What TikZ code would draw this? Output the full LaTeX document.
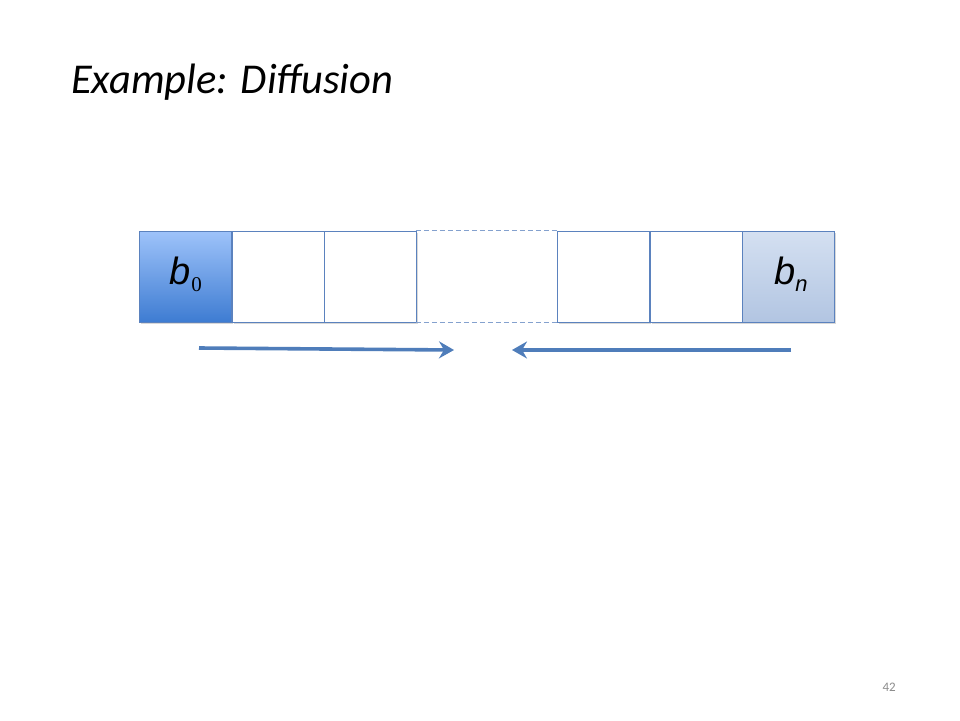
\documentclass[tikz,border=0pt]{standalone}
\usepackage{fontspec}
\setmainfont{Carlito}
\newfontfamily\arialf{Liberation Sans}
\newfontfamily\timesf{Liberation Serif}
\usetikzlibrary{arrows.meta,shadows}
\definecolor{edgeblue}{HTML}{5B82BE}
\definecolor{arrowblue}{HTML}{4F7DBA}
\definecolor{bzerotop}{HTML}{9EC3FA}
\definecolor{bzerobot}{HTML}{3E7CD2}
\definecolor{bntop}{HTML}{D4E0F1}
\definecolor{bnbot}{HTML}{B2C5E2}
\definecolor{pagegray}{HTML}{8C8C8C}
\tikzset{
  cell/.style={draw=edgeblue, line width=0.9pt, minimum width=92pt, minimum height=91pt, inner sep=0pt,
    drop shadow={opacity=0.3, shadow xshift=1.5pt, shadow yshift=-1.8pt}},
  gapcell/.style={minimum width=141pt, minimum height=91pt, inner sep=0pt},
  dashedge/.style={draw=edgeblue!75, line width=0.9pt, dash pattern=on 5pt off 3pt},
  flow/.style={draw=arrowblue, line width=3.6pt, -{Stealth[length=15pt, width=17pt, inset=5pt]}},
  lbl/.style={font=\arialf\itshape\fontsize{38}{38}\selectfont, text=black}
}
\begin{document}
\begin{tikzpicture}[x=1pt, y=-1pt]
\useasboundingbox[fill=white] (0,0) rectangle (960,720);
\node[anchor=base west, font=\itshape\fontsize{42.5}{42.5}\selectfont, inner sep=0pt] (title) at (71,93) {Example: Diffusion};
\node[cell, top color=bzerotop, bottom color=bzerobot] (c0) at (185.5,276.5) {};
\node[cell, fill=white] (c1) at (278,276.5) {};
\node[cell, fill=white] (c2) at (370,276.5) {};
\node[gapcell] (gap) at (486.5,276.5) {};
\node[cell, fill=white] (c4) at (603.5,276.5) {};
\node[cell, fill=white] (c5) at (696,276.5) {};
\node[cell, top color=bntop, bottom color=bnbot] (cn) at (788,276.5) {};
\draw[dashedge] (gap.north west) -- (gap.north east);
\draw[dashedge] (gap.south west) -- (gap.south east);
\node[lbl, anchor=base west, inner sep=0pt] (b0) at (169,284) {b\kern1pt\raisebox{-7pt}{\timesf\upshape\fontsize{21}{21}\selectfont 0}};
\node[lbl, anchor=base west, inner sep=0pt] (bn) at (774,284) {b\raisebox{-7pt}{\fontsize{22}{22}\selectfont n}};
\coordinate (la) at (199,348);
\coordinate (lb) at (454,350);
\coordinate (ra) at (791,350);
\coordinate (rb) at (512,350);
\draw[flow] (la) -- (lb);
\draw[flow] (ra) -- (rb);
\node[anchor=base east, font=\fontsize{13}{13}\selectfont, text=pagegray, inner sep=0pt] (page) at (896,691) {42};
\end{tikzpicture}
\end{document}
